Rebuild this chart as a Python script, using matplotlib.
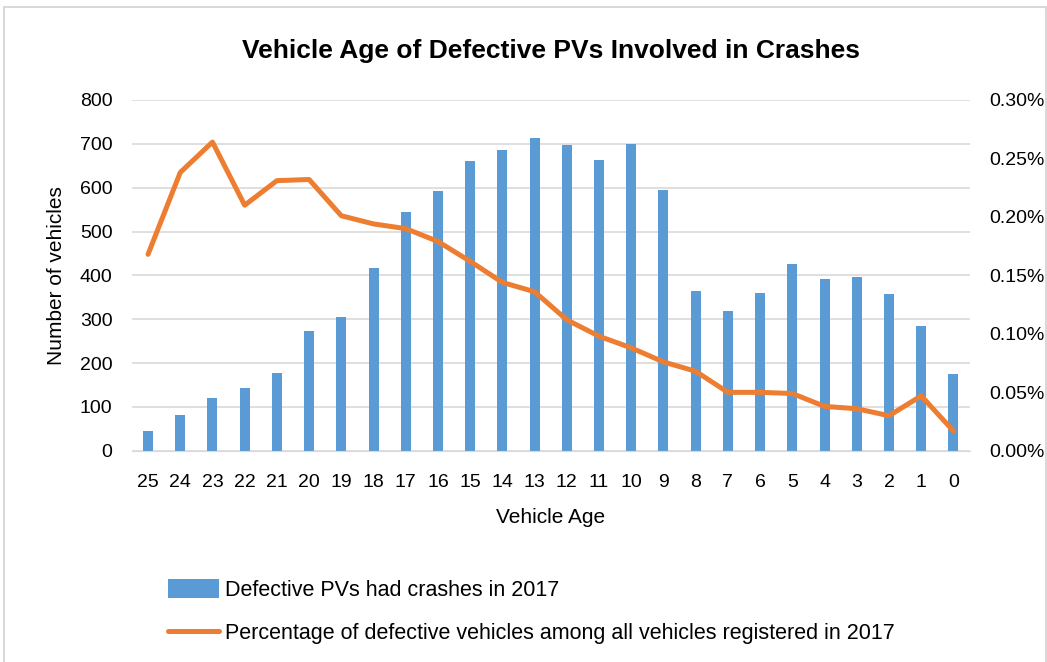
import numpy as np
import matplotlib.pyplot as plt
from matplotlib.ticker import FuncFormatter

plt.rcParams['font.family'] = ['Liberation Sans', 'DejaVu Sans']

# ---- data ----
ages = [25, 24, 23, 22, 21, 20, 19, 18, 17, 16, 15, 14, 13,
        12, 11, 10, 9, 8, 7, 6, 5, 4, 3, 2, 1, 0]
crashes = [45, 82, 121, 144, 178, 273, 305, 417, 545, 592, 661, 686, 713,
           697, 663, 700, 595, 365, 319, 360, 426, 392, 396, 358, 285, 176]
pct_defective = [0.168, 0.238, 0.264, 0.210, 0.231, 0.232, 0.201, 0.194, 0.190,
                 0.179, 0.162, 0.144, 0.136, 0.112, 0.098, 0.088, 0.076, 0.068,
                 0.050, 0.050, 0.049, 0.038, 0.036, 0.030, 0.047, 0.017]

blue = '#5B9BD5'
orange = '#ED7D31'

fig = plt.figure(figsize=(10.47, 6.62), dpi=100)
ax = fig.add_axes([0.126, 0.319, 0.800, 0.530])
x = np.arange(len(ages))

bars = ax.bar(x, crashes, width=0.31, color=blue, zorder=2,
              label='Defective PVs had crashes in 2017')
ax.set_ylim(0, 800)
ax.set_yticks(range(0, 801, 100))
ax.set_xlim(-0.5, len(ages) - 0.5)
ax.set_xticks(x)
ax.set_xticklabels([str(a) for a in ages])
ax.grid(axis='y', color='#d9d9d9', linewidth=1.2, zorder=0)
ax.set_axisbelow(True)
for s in ['top', 'right', 'left']:
    ax.spines[s].set_visible(False)
ax.spines['bottom'].set_color('#d9d9d9')
ax.tick_params(axis='y', length=0, labelsize=14, pad=14)
ax.tick_params(axis='x', length=0, labelsize=14, pad=17)
ax.set_ylabel('Number of vehicles', fontsize=15, labelpad=10)
ax.set_xlabel('Vehicle Age', fontsize=15, labelpad=12)

ax2 = ax.twinx()
line, = ax2.plot(x, pct_defective, color=orange, linewidth=3.6, zorder=3,
                 solid_capstyle='round',
                 label='Percentage of defective vehicles among all vehicles registered in 2017')
ax2.set_ylim(0, 0.30)
ax2.set_yticks(np.arange(0, 0.301, 0.05))
ax2.yaxis.set_major_formatter(FuncFormatter(lambda v, p: f'{v:.2f}%'))
for s in ax2.spines.values():
    s.set_visible(False)
ax2.tick_params(length=0, labelsize=14, pad=14)

ax.set_title('Vehicle Age of Defective PVs Involved in Crashes',
             fontsize=19, fontweight='bold', pad=30)

fig.legend([bars, line], [bars.get_label(), line.get_label()],
           loc='center left', bbox_to_anchor=(0.160, 0.076),
           frameon=False, fontsize=15.5, handlelength=2.4, handleheight=1.0,
           handletextpad=0.25, labelspacing=1.0, borderaxespad=0, borderpad=0)

# light frame around the whole chart
fig.patches.append(plt.Rectangle((0.004, -0.01), 0.995, 1.0, transform=fig.transFigure,
                                 fill=False, edgecolor='#d9d9d9', linewidth=1.5))

fig.savefig('out.png', dpi=100)
